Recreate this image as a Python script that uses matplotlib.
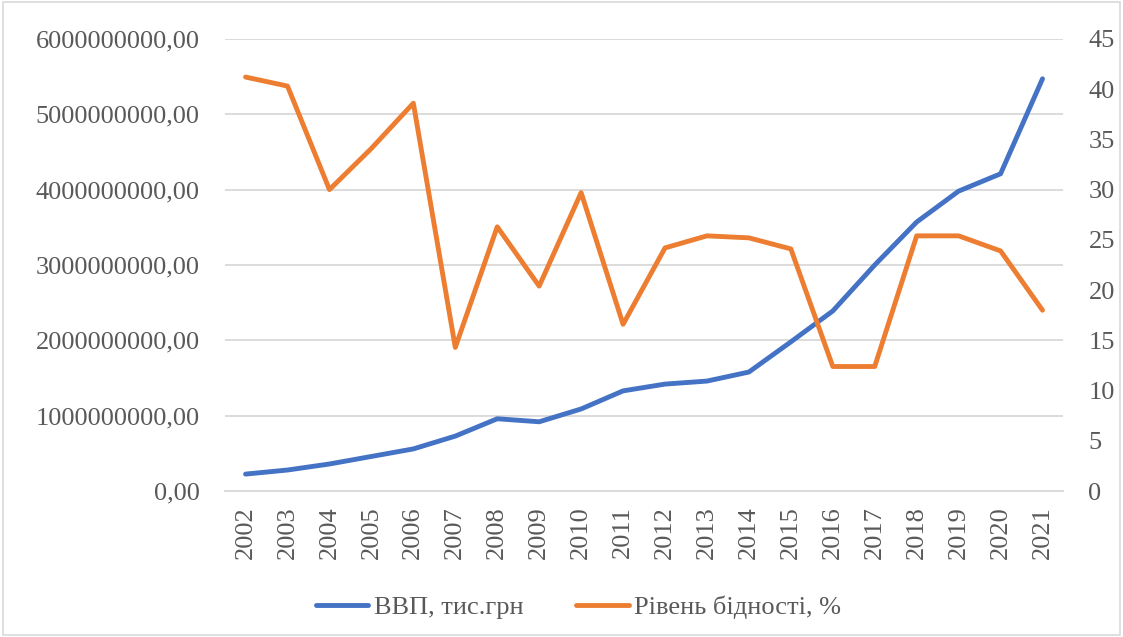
import numpy as np
import matplotlib.pyplot as plt
from matplotlib.ticker import FuncFormatter, MultipleLocator
from matplotlib.patches import Rectangle

plt.rcParams['font.family'] = ['Liberation Serif', 'DejaVu Serif']

years = [str(y) for y in range(2002, 2022)]
vvp = [0.226e9, 0.28e9, 0.36e9, 0.46e9, 0.56e9, 0.73e9, 0.96e9, 0.92e9, 1.09e9, 1.33e9,
       1.42e9, 1.46e9, 1.58e9, 1.98e9, 2.39e9, 3.0e9, 3.57e9, 3.98e9, 4.21e9, 5.47e9]
bidnist = [41.2, 40.3, 30.0, 34.1, 38.6, 14.3, 26.3, 20.4, 29.7, 16.6,
           24.2, 25.4, 25.2, 24.1, 12.4, 12.4, 25.4, 25.4, 23.9, 18.0]

fig = plt.figure(figsize=(11.23, 6.37), dpi=100)
ax = fig.add_axes([0.2, 0.229, 0.747, 0.71])
ax2 = ax.twinx()

x = np.arange(len(years))
l1, = ax.plot(x, vvp, color='#4472C4', lw=3.5, solid_capstyle='round', label='ВВП, тис.грн')
l2, = ax2.plot(x, bidnist, color='#ED7D31', lw=3.5, solid_capstyle='round', label='Рівень бідності, %')

ax.set_xlim(-0.5, len(years) - 0.5)
ax.set_ylim(0, 6e9)
ax2.set_ylim(0, 45)
ax.yaxis.set_major_locator(MultipleLocator(1e9))
ax2.yaxis.set_major_locator(MultipleLocator(5))
ax.yaxis.set_major_formatter(FuncFormatter(lambda v, p: f'{v:.2f}'.replace('.', ',')))

ax.set_xticks(x)
ax.set_xticklabels(years, rotation=90)
ax.grid(axis='y', color='#D9D9D9', lw=1.3)
ax.set_axisbelow(True)

for a in (ax, ax2):
    for s in a.spines.values():
        s.set_visible(False)
    a.tick_params(length=0, labelsize=19, labelcolor='#595959')
ax.spines['bottom'].set_visible(True)
ax.spines['bottom'].set_color('#D9D9D9')
ax.spines['bottom'].set_linewidth(1.3)
ax.tick_params(axis='y', pad=18)
ax.tick_params(axis='x', pad=11)
ax2.tick_params(axis='y', pad=18)

# легенда внизу, по центру
fig.legend(handles=[l1, l2], loc='center', bbox_to_anchor=(0.515, 0.047), ncol=2,
           frameon=False, fontsize=19, labelcolor='#595959', handlelength=2.0,
           columnspacing=2.0, handletextpad=0.2)

fig.patches.append(Rectangle((0.003, 0.003), 0.994, 0.994, transform=fig.transFigure,
                             fill=False, edgecolor='#D9D9D9', lw=1.2))

fig.savefig('out.png', dpi=100)
